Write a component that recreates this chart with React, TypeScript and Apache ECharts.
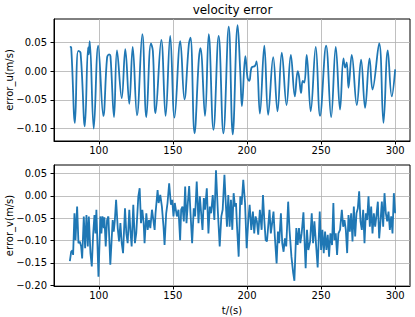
import React, { useEffect, useRef } from "react";
import * as echarts from "echarts";

const FONT = "DejaVu Sans";
const titleText = "velocity error";
const yNameU = "error_u(m/s)";
const yNameV = "error_v(m/s)";
const xName = "t/(s)";

const xTicks = [100, 150, 200, 250, 300];
const yTicksU = [-0.1, -0.05, 0.0, 0.05];
const yTicksV = [-0.2, -0.15, -0.1, -0.05, 0.0, 0.05];

const timeU = [
  80.5, 81.4, 83.9, 86.1, 87.7, 90.6, 92.8, 93.3, 93.9, 96.6, 99.6, 103.1, 105.6, 107.0, 107.9,
  110.3, 112.3, 115.5, 117.9, 120.6, 122.9, 125.8, 129.4, 132.1, 135.2, 136.5, 138.3, 142.2,
  145.1, 148.2, 151.1, 155.0, 157.8, 160.8, 161.9, 164.6, 167.5, 168.6, 171.7, 174.2, 177.4,
  180.9, 184.1, 187.7, 190.4, 193.7, 195.5, 196.6, 198.9, 200.4, 201.6, 203.1, 205.4, 206.5,
  208.7, 211.7, 214.3, 217.7, 220.6, 223.5, 226.7, 229.6, 232.3, 234.2, 235.1, 236.5, 237.6,
  238.7, 240.3, 243.0, 246.4, 249.3, 253.4, 256.8, 259.9, 262.8, 265.1, 266.2, 267.3, 268.5,
  270.7, 274.1, 277.0, 279.7, 282.7, 284.7, 289.2, 292.1, 295.0, 297.7, 300.0,
];
const errorU = [
  0.042, 0.041, -0.09, 0.035, 0.032, -0.096, 0.041, 0.029, 0.052, -0.1, 0.044, -0.078, 0.023,
  0.029, 0.026, -0.08, 0.036, -0.047, 0.038, -0.057, 0.042, -0.077, 0.064, -0.08, 0.048, 0.035,
  -0.073, 0.054, -0.078, 0.061, -0.081, 0.052, -0.049, 0.047, 0.058, -0.108, 0.02, 0.04, -0.078,
  0.064, -0.102, 0.061, -0.108, 0.077, -0.11, 0.08, -0.003, -0.061, 0.026, -0.012, -0.017, 0.006,
  0.009, 0.017, -0.074, 0.044, -0.076, 0.024, -0.07, 0.032, -0.059, 0.028, -0.044, 0.0, -0.009,
  -0.038, -0.017, -0.02, 0.028, -0.07, 0.042, -0.078, 0.044, -0.08, 0.042, -0.067, 0.022, 0.006,
  0.015, -0.029, 0.028, -0.059, 0.02, -0.064, 0.022, -0.032, 0.048, -0.09, 0.036, -0.044, 0.003,
];

const timeV = [
  80.5, 81.4, 82.3, 82.7, 83.6, 84.3, 85.4, 86.3, 87.2, 88.1, 88.8, 89.9, 90.8, 91.7, 92.6, 93.3,
  94.4, 95.3, 96.2, 97.1, 97.8, 98.4, 99.8, 101.1, 101.8, 102.5, 103.4, 103.8, 104.7, 105.6, 106.5,
  107.8, 109.4, 110.1, 110.8, 111.7, 112.8, 113.7, 114.6, 115.5, 116.4, 117.7, 118.6, 119.5, 120.6,
  121.3, 122.2, 123.3, 124.4, 125.3, 126.7, 127.6, 128.5, 129.4, 130.3, 130.9, 132.1, 133.0, 133.9,
  134.8, 135.9, 136.5, 137.7, 138.3, 139.7, 140.4, 141.5, 142.6, 143.7, 144.4, 145.5, 146.4, 147.5,
  148.7, 149.6, 150.4, 151.3, 152.7, 153.8, 154.9,
  155.6, 156.5, 157.4, 158.3, 159.2, 160.1, 161.0, 161.9, 163.0, 164.1, 165.0, 166.1, 167.3, 168.2,
  169.1, 170.0, 170.9, 171.7, 172.9, 174.0, 174.9, 175.8, 176.9, 178.0, 179.1, 180.3, 181.6, 182.7,
  183.6, 184.8, 185.7, 186.5, 187.4, 188.3, 189.2, 190.1, 191.0, 191.9, 192.6, 193.3, 194.4, 195.5,
  196.4, 197.5, 198.7, 199.8, 200.9, 201.8, 202.9, 204.0, 204.9, 205.8, 206.7, 207.6, 208.7, 209.9,
  210.8, 211.7, 212.6, 213.5, 214.3, 215.2, 216.1, 217.0, 217.9, 218.8, 220.0, 220.9, 221.7, 222.9,
  223.8, 224.7, 225.6, 226.5, 227.8, 228.7, 230.0, 231.2,
  232.0, 233.3, 234.2, 235.1, 236.0, 236.9, 238.1, 239.0, 239.6, 240.5, 241.4, 242.6, 243.7, 244.6,
  245.5, 246.4, 247.7, 249.1, 250.0, 250.9, 251.8, 252.7, 253.6, 254.5, 255.4, 256.3, 257.4, 258.3,
  259.0, 259.9, 260.8, 261.7, 262.8, 264.0, 264.9, 265.8, 266.7, 267.6, 268.5, 269.4, 270.3, 271.2,
  272.1, 273.0, 273.9, 274.8, 275.7, 276.6, 277.5, 278.4, 279.3, 280.2, 281.1, 282.0, 282.9, 283.8,
  284.7, 285.6, 286.5, 287.4, 288.3, 289.2, 290.1, 291.0, 291.9, 292.8, 293.7, 294.6, 295.5, 296.4,
  297.3, 298.2, 299.1, 300.0,
];
const errorV = [
  -0.146, -0.125, -0.122, -0.132, -0.039, -0.099, -0.024, -0.106, -0.102, -0.113, -0.14, -0.046,
  -0.117, -0.043, -0.113, -0.046, -0.128, -0.158, -0.087, -0.043, -0.084, -0.031, -0.181, -0.046,
  -0.084, -0.046, -0.072, -0.048, -0.113, -0.054, -0.046, -0.154, -0.054, -0.08, -0.057, -0.009,
  -0.072, -0.102, -0.061, -0.106, -0.128, -0.028, -0.084, -0.106, -0.031, -0.076, -0.113, -0.02,
  -0.106, -0.084, -0.001, 0.017, -0.061, -0.031, -0.061, -0.106, -0.039, -0.076, -0.054, -0.072,
  -0.031, -0.046, -0.076, -0.039, 0.013, -0.016, 0.002, -0.024, -0.069, -0.11, -0.039, -0.016,
  0.028, -0.02, -0.009, -0.046, -0.016, -0.046, -0.031, -0.099,
  -0.031, -0.024, -0.057, 0.021, -0.061, -0.016, 0.022, -0.039, -0.106, -0.028, -0.046, 0.032,
  -0.061, -0.001, -0.039, -0.076, -0.005, -0.031, 0.017, -0.084, -0.024, -0.039, 0.002, -0.054,
  0.057, -0.031, -0.113, -0.046, -0.031, 0.047, -0.016, -0.069, 0.002, -0.069, -0.009, -0.076,
  0.006, -0.024, -0.016, -0.069, -0.136, -0.001, -0.02, 0.036, -0.016, -0.117, -0.054, -0.02,
  -0.076, -0.035, -0.084, -0.046, -0.057, -0.087, -0.031, -0.076, 0.002, -0.054, -0.099, -0.102,
  -0.069, -0.031, -0.084, -0.061, -0.035, -0.091, -0.151, -0.08, -0.106, -0.039, -0.106, -0.125,
  -0.095, -0.113, -0.013, -0.076, -0.136, -0.173,
  -0.19, -0.072, -0.11, -0.072, -0.106, -0.084, -0.037, -0.113, -0.162, -0.076, -0.121, -0.102,
  -0.039, -0.106, -0.057, -0.099, -0.16, -0.035, -0.121, -0.076, -0.128, -0.08, -0.121, -0.087,
  -0.136, -0.084, -0.11, -0.016, -0.099, -0.084, -0.132, -0.084, -0.076, -0.031, -0.069, -0.054,
  -0.076, -0.128, -0.043, -0.08, -0.039, -0.102, -0.024, -0.091, -0.039, -0.028, 0.01, -0.057,
  -0.076, -0.031, -0.106, -0.039, -0.054, -0.001, -0.069, -0.024, -0.084, -0.039, -0.069, -0.043,
  -0.013, -0.095, -0.057, -0.013, -0.069, 0.006, -0.039, -0.057, -0.035, -0.076, -0.046, -0.084,
  0.006, -0.039,
];

const fmtY = (v: number) => {
  const s = Math.abs(v).toFixed(2);
  return v < -1e-9 ? "\u2212" + s : s;
};

const textBase = { color: "#000", fontFamily: FONT, fontSize: 10 };

function xAxisCfg(gridIndex: number, name?: string) {
  return {
    type: "value",
    gridIndex,
    min: 69.8,
    max: 310,
    name: name || "",
    nameLocation: "middle",
    nameGap: 19,
    nameMoveOverlap: false,
    nameTextStyle: { ...textBase },
    axisLine: { show: true, onZero: false, lineStyle: { color: "#000", width: 1 } },
    axisTick: { show: true, inside: false, length: 3.5, customValues: xTicks, lineStyle: { color: "#000", width: 1 } },
    axisLabel: { ...textBase, margin: 4, customValues: xTicks, formatter: (v: number) => String(Math.round(v)) },
    splitLine: { show: true, lineStyle: { color: "#b0b0b0", width: 0.8 } },
  };
}

function yAxisCfg(gridIndex: number, min: number, max: number, ticks: number[], name: string) {
  return {
    type: "value",
    gridIndex,
    min,
    max,
    name,
    nameLocation: "middle",
    nameGap: 40,
    nameMoveOverlap: false,
    nameTextStyle: { ...textBase },
    axisLine: { show: true, onZero: false, lineStyle: { color: "#000", width: 1 } },
    axisTick: { show: true, inside: false, length: 3.5, customValues: ticks, lineStyle: { color: "#000", width: 1 } },
    axisLabel: { ...textBase, margin: 7, customValues: ticks, formatter: fmtY },
    splitLine: { show: true, lineStyle: { color: "#b0b0b0", width: 0.8 } },
  };
}

export default function App() {
  const ref = useRef<HTMLDivElement>(null);
  useEffect(() => {
    if (!ref.current) return;
    const chart = echarts.init(ref.current, undefined, { renderer: "svg" });
    chart.setOption({
      animation: false,
      backgroundColor: "#fff",
      textStyle: { fontFamily: FONT },
      graphic: [
        {
          type: "text",
          x: 232.5,
          y: 10,
          style: { text: titleText, fontSize: 12, fontFamily: FONT, fill: "#000", align: "center", verticalAlign: "middle" },
        },
      ],
      grid: [
        { left: 54, right: 5, top: 19, height: 122, containLabel: false, outerBoundsMode: "none", show: true, borderColor: "#000", borderWidth: 1, backgroundColor: "transparent" },
        { left: 54, right: 5, top: 165, height: 121, containLabel: false, outerBoundsMode: "none", show: true, borderColor: "#000", borderWidth: 1, backgroundColor: "transparent" },
      ],
      xAxis: [xAxisCfg(0), xAxisCfg(1, xName)],
      yAxis: [
        yAxisCfg(0, -0.1215, 0.0905, yTicksU, yNameU),
        yAxisCfg(1, -0.2016, 0.069, yTicksV, yNameV),
      ],
      series: [
        {
          type: "line",
          xAxisIndex: 0,
          yAxisIndex: 0,
          data: timeU.map((t, i) => [t, errorU[i]]),
          showSymbol: false,
          smooth: 0.4,
          lineStyle: { color: "#1f77b4", width: 1.8 },
          itemStyle: { color: "#1f77b4" },
        },
        {
          type: "line",
          xAxisIndex: 1,
          yAxisIndex: 1,
          data: timeV.map((t, i) => [t, errorV[i]]),
          showSymbol: false,
          lineStyle: { color: "#1f77b4", width: 1.8 },
          itemStyle: { color: "#1f77b4" },
        },
      ],
    });
    return () => chart.dispose();
  }, []);
  return <div ref={ref} style={{ position: "fixed", left: 0, top: 0, width: 415, height: 317 }} />;
}
